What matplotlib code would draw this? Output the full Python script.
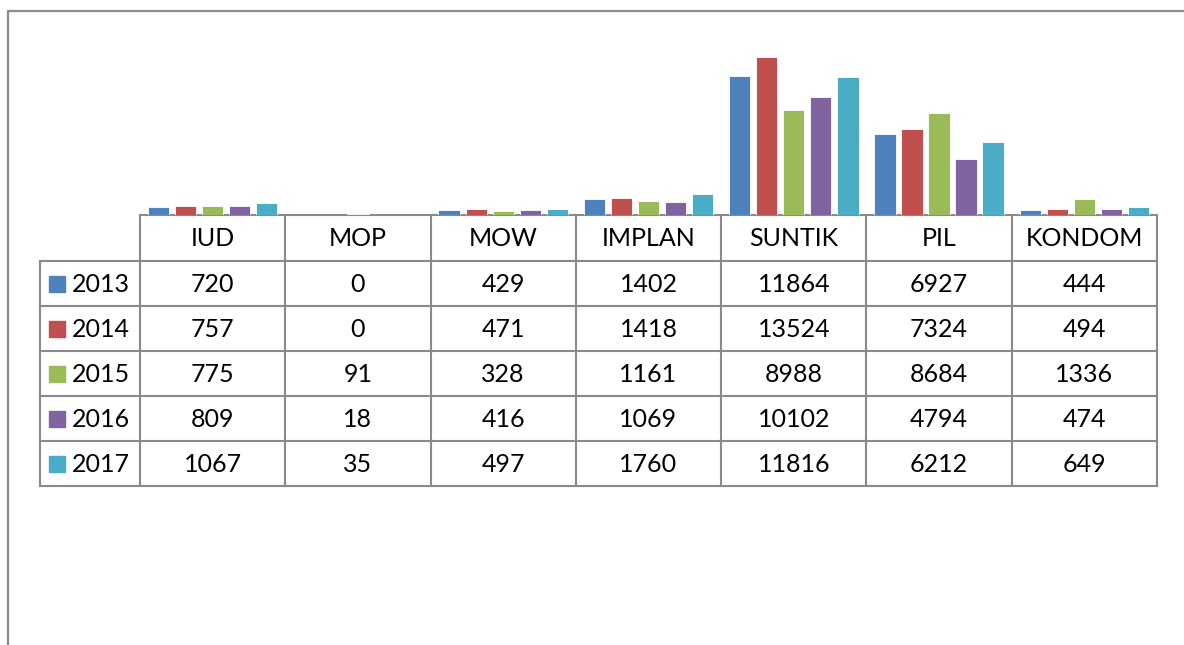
import numpy as np
import matplotlib.pyplot as plt

categories = ["IUD", "MOP", "MOW", "IMPLAN", "SUNTIK", "PIL", "KONDOM"]
years = ["2013", "2014", "2015", "2016", "2017"]
v2013 = [720, 0, 429, 1402, 11864, 6927, 444]
v2014 = [757, 0, 471, 1418, 13524, 7324, 494]
v2015 = [775, 91, 328, 1161, 8988, 8684, 1336]
v2016 = [809, 18, 416, 1069, 10102, 4794, 474]
v2017 = [1067, 35, 497, 1760, 11816, 6212, 649]
series = [v2013, v2014, v2015, v2016, v2017]
colors = ["#4f81bd", "#c0504d", "#9bbb59", "#8064a2", "#4bacc6"]

plt.rcParams['font.family'] = ['Lato', 'DejaVu Sans']

W, H = 1184, 645
fig = plt.figure(figsize=(W / 100, H / 100), dpi=100)

# layout in pixels
x0, x1 = 140, 1157       # plot / table data columns
lab_x = 40               # left edge of row label column
y_base = 215             # baseline of bars / top of table
y_top = 30               # top of plot area
hdr_h = 46
row_h = 45
grid = "#8a8a8a"

# overlay axes in pixel coordinates for frame + table
ov = fig.add_axes([0, 0, 1, 1])
ov.set_xlim(0, W)
ov.set_ylim(H, 0)
ov.axis("off")

# outer chart border
ov.plot([8, 8, W + 5], [H + 5, 11, 11], color="#8c8c8c", lw=1.6)

# bars
ax = fig.add_axes([x0 / W, 1 - y_base / H, (x1 - x0) / W, (y_base - y_top) / H])
ax.set_xlim(-0.5, len(categories) - 0.5)
ax.set_ylim(0, 15800)
ax.axis("off")
x = np.arange(len(categories))
step, bw = 0.186, 0.147
for i, (vals, c) in enumerate(zip(series, colors)):
    ax.bar(x + (i - 2) * step, vals, bw, color=c, edgecolor="white", linewidth=0.6)

# table
ncol = len(categories)
cw = (x1 - x0) / ncol
y_bot = y_base + hdr_h + row_h * len(years)
ov.plot([x0, x1], [y_base, y_base], color=grid, lw=1.5)
for r in range(len(years) + 1):
    yy = y_base + hdr_h + r * row_h
    ov.plot([lab_x, x1], [yy, yy], color=grid, lw=1.5)
ov.plot([lab_x, lab_x], [y_base + hdr_h, y_bot], color=grid, lw=1.5)
for cidx in range(ncol + 1):
    xx = x0 + cidx * cw
    ov.plot([xx, xx], [y_base, y_bot], color=grid, lw=1.5)

fs = 18
for cidx, cat in enumerate(categories):
    ov.text(x0 + (cidx + 0.5) * cw, y_base + hdr_h / 2 + 1, cat,
            ha="center", va="center", fontsize=fs)
for r, (yr, vals, c) in enumerate(zip(years, series, colors)):
    yc = y_base + hdr_h + (r + 0.5) * row_h
    ov.add_patch(plt.Rectangle((49, yc - 8), 16, 16, color=c))
    ov.text(72, yc + 1, yr, ha="left", va="center", fontsize=fs)
    for cidx, v in enumerate(vals):
        ov.text(x0 + (cidx + 0.5) * cw, yc + 1, str(v),
                ha="center", va="center", fontsize=fs)

fig.savefig("out.png", dpi=100)
